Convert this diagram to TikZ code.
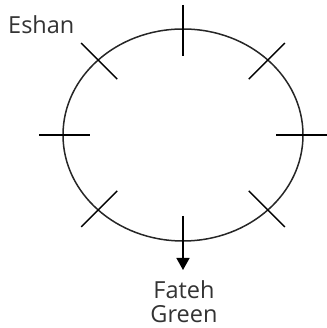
\documentclass[tikz,border=0pt]{standalone}
\usepackage{fontspec}
\setmainfont{Open Sans}
\usetikzlibrary{arrows.meta,calc}
\begin{document}
\begin{tikzpicture}[x=1pt,y=1pt,
  ring/.style={line width=1.5pt,draw=black!85},
  tick/.style={line width=1.4pt,draw=black},
  lbl/.style={font=\fontsize{23.5}{24}\selectfont,text=black!80,inner sep=0pt}]
\useasboundingbox (0,0) rectangle (326,328);
\coordinate (c) at (183,193);
\draw[ring] (c) ellipse [x radius=120, y radius=106];
% ticks at ellipse points
\foreach \a/\n in {90/t,0/r,180/l,45/tr,135/tl,225/bl,315/br}{
  \coordinate (p\n) at ($(c)+(\a:120 and 106)$);
  \draw[tick] ($(p\n)+(\a:24)$) -- ($(p\n)+(\a:-27)$);
}
\coordinate (pb) at ($(c)+(270:120 and 106)$);
\coordinate (bs) at ($(pb)+(0,25)$);
\coordinate (tip) at ($(pb)+(0,-29)$);
\draw[tick,-{Triangle[length=12pt,width=13pt]}] (bs) -- (tip);
\node[lbl,anchor=base west] (eshan) at (8,294) {Eshan};
\node[lbl,anchor=north,align=center] (fg) at (184,48) {Fateh\\Green};
\end{tikzpicture}
\end{document}
